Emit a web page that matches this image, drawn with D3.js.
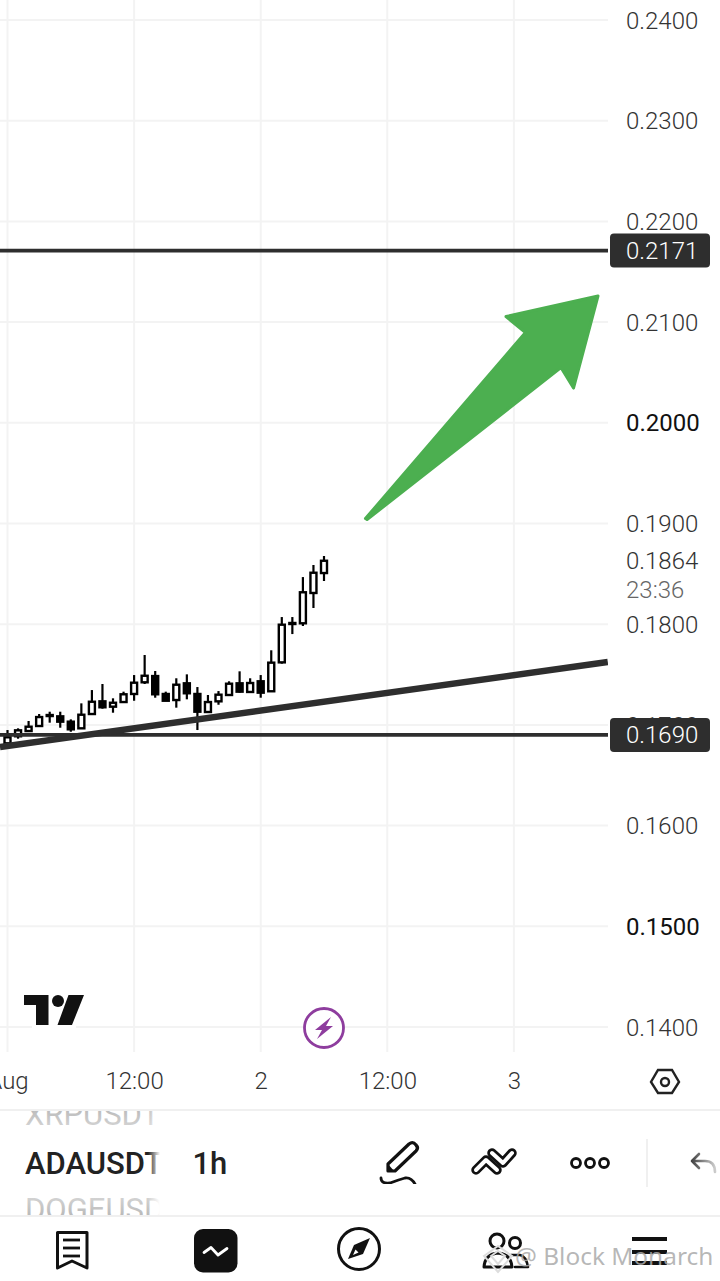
<!DOCTYPE html>
<html>
<head>
<meta charset="utf-8">
<script src="https://cdn.jsdelivr.net/npm/d3@7/dist/d3.min.js"></script>
<style>
html, body { margin: 0; padding: 0; background: #fff; overflow: hidden; }
svg { display: block; font-family: Roboto, sans-serif; font-feature-settings: "tnum"; }
svg text { font-family: Roboto, sans-serif; }
</style>
</head>
<body>
<script>
// candles, one per hour counted from 1 Aug 00:00
var hours = d3.range(0, 31);
var opens = [.16817,.16887,.16939,.16989,.17088,.17085,.17032,.16966,.17108,.17234,.17181,.17227,.17307,.17423,.17485,.17307,.17247,.17413,.17307,.17128,.17234,.17297,.17413,.17327,.17433,.17334,.17621,.18002,.18009,.18310,.18508];
var highs = [.16949,.16966,.17039,.17108,.17131,.17131,.17055,.17214,.17346,.17406,.17264,.17330,.17495,.17694,.17535,.17330,.17463,.17502,.17376,.17297,.17336,.17433,.17532,.17463,.17495,.17741,.18071,.18071,.18468,.18588,.18677];
var lows = [.16815,.16863,.16932,.16982,.17022,.16972,.16932,.16966,.17105,.17161,.17121,.17224,.17240,.17406,.17270,.17237,.17171,.17254,.16949,.17121,.17200,.17294,.17320,.17324,.17270,.17330,.17608,.17902,.17982,.18161,.18429];
var closes = [.16877,.16946,.16982,.17078,.17098,.17032,.16956,.17101,.17230,.17175,.17220,.17304,.17419,.17488,.17304,.17240,.17399,.17314,.17131,.17227,.17300,.17409,.17330,.17416,.17320,.17618,.17995,.18012,.18317,.18511,.18630];

var priceTicks = [.14,.15,.16,.17,.18,.19,.20,.21,.22,.23,.24];
var boldPrices = [.15,.20];
var timeTicks = [0,12,24,36,48];
var timeLabels = ['Aug','12:00','2','12:00','3'];

// drawings on the chart
var levels = [.2171,.1690];
var trendHours = [-0.71,56.9];
var trendPrices = [.16780,.17624];
var arrowHours = [55.97,47.25,49.10,33.93,34.08,52.46,53.65];
var arrowPrices = [.21259,.21055,.20896,.19049,.19039,.20549,.20345];
var lastPrice = '0.1864', countdown = '23:36';

var W = 720, H = 1281, chartRight = 608, chartBottom = 1052;
var x = d3.scaleLinear().domain([0,48]).range([7.5,513.9]);
var y = d3.scaleLinear().domain([.14,.24]).range([1027,20]);

var svg = d3.select('body').append('svg').attr('width', W).attr('height', H);
var defs = svg.append('defs');
defs.append('clipPath').attr('id','plot').append('rect').attr('width',chartRight).attr('height',chartBottom);
defs.append('clipPath').attr('id','picker').append('rect').attr('x',0).attr('y',1111).attr('width',165).attr('height',104);
defs.append('clipPath').attr('id','pen').append('rect').attr('x',370).attr('y',1130).attr('width',60).attr('height',54);
var fade = defs.append('linearGradient').attr('id','fade').attr('gradientUnits','userSpaceOnUse')
    .attr('x1',148).attr('x2',160).attr('y1',0).attr('y2',0);
fade.append('stop').attr('offset',0).attr('stop-color','#fff').attr('stop-opacity',0);
fade.append('stop').attr('offset',1).attr('stop-color','#fff').attr('stop-opacity',1);
var fadeUp = defs.append('linearGradient').attr('id','fadeUp').attr('x1',0).attr('x2',0).attr('y1',0).attr('y2',1);
fadeUp.append('stop').attr('offset',0).attr('stop-color','#a8a8a8');
fadeUp.append('stop').attr('offset',1).attr('stop-color','#dcdcdc');
var fadeDown = defs.append('linearGradient').attr('id','fadeDown').attr('x1',0).attr('x2',0).attr('y1',0).attr('y2',1);
fadeDown.append('stop').attr('offset',0).attr('stop-color','#dcdcdc');
fadeDown.append('stop').attr('offset',1).attr('stop-color','#a8a8a8');
var undo = defs.append('linearGradient').attr('id','undo');
undo.append('stop').attr('offset',0).attr('stop-color','#444');
undo.append('stop').attr('offset',1).attr('stop-color','#ccc');

// grid
var plot = svg.append('g').attr('clip-path','url(#plot)');
plot.selectAll('.hgrid').data(priceTicks).enter().append('line')
    .attr('x1',0).attr('x2',chartRight).attr('y1',y).attr('y2',y)
    .attr('stroke','#f3f3f3').attr('stroke-width',2);
plot.selectAll('.vgrid').data(timeTicks).enter().append('line')
    .attr('x1',x).attr('x2',x).attr('y1',0).attr('y2',chartBottom)
    .attr('stroke','#f3f3f3').attr('stroke-width',2);

// axes
var priceAxis = d3.axisRight(y).tickValues(priceTicks).tickSize(0).tickPadding(0).tickFormat(d3.format('.4f'));
var gy = svg.append('g').attr('transform','translate(626,0.5)').call(priceAxis);
gy.select('.domain').remove();
gy.selectAll('text').attr('fill',function(d){ return boldPrices.indexOf(d) >= 0 ? '#111' : '#333'; })
    .style('font-size','24px')
    .style('font-weight',function(d){ return boldPrices.indexOf(d) >= 0 ? 400 : 300; });

var timeAxis = d3.axisBottom(x).tickValues(timeTicks).tickSize(0).tickPadding(0)
    .tickFormat(function(d,i){ return timeLabels[i]; });
var gx = svg.append('g').attr('transform','translate(0,1072)').call(timeAxis);
gx.select('.domain').remove();
gx.selectAll('text').attr('fill','#333').style('font-size','24px').style('font-weight',300);

// candles
var candles = plot.selectAll('.candle').data(hours).enter().append('g');
candles.append('line')
    .attr('x1',function(h){ return x(h); }).attr('x2',function(h){ return x(h); })
    .attr('y1',function(h,i){ return y(highs[i]); }).attr('y2',function(h,i){ return y(lows[i]); })
    .attr('stroke','#000').attr('stroke-width',2.2);
candles.append('rect')
    .attr('x',function(h){ return x(h) - 3; }).attr('width',6)
    .attr('y',function(h,i){ return y(Math.max(opens[i],closes[i])); })
    .attr('height',function(h,i){ return Math.abs(y(opens[i]) - y(closes[i])); })
    .attr('fill',function(h,i){ return closes[i] >= opens[i] ? '#fff' : '#000'; })
    .attr('stroke','#000').attr('stroke-width',2.4);

// level lines, trend line, arrow
plot.selectAll('.level').data(levels).enter().append('line')
    .attr('x1',0).attr('x2',chartRight).attr('y1',y).attr('y2',y)
    .attr('stroke','#2e2e2e').attr('stroke-width',3.8);
plot.append('line')
    .attr('x1',x(trendHours[0])).attr('x2',x(trendHours[1]))
    .attr('y1',y(trendPrices[0])).attr('y2',y(trendPrices[1]))
    .attr('stroke','#2e2e2e').attr('stroke-width',6.5);
svg.append('path')
    .attr('d',d3.line()(arrowHours.map(function(h,i){ return [x(h), y(arrowPrices[i])]; })) + 'Z')
    .attr('fill','#4caf50').attr('stroke','#4caf50').attr('stroke-width',3).attr('stroke-linejoin','round');

// price tags
var tags = svg.selectAll('.tag').data(levels).enter().append('g');
tags.append('rect').attr('x',610).attr('width',100).attr('height',34).attr('rx',4)
    .attr('y',function(d){ return y(d) - 17; }).attr('fill','#2e2e2e');
tags.append('text').attr('x',626).attr('y',function(d){ return y(d) + 8.5; })
    .attr('fill','#fff').style('font-size','24px').style('font-weight',300)
    .text(d3.format('.4f'));

svg.append('text').attr('x',626).attr('y',568.5).attr('fill','#333')
    .style('font-size','24px').style('font-weight',300).text(lastPrice);
svg.append('text').attr('x',626).attr('y',597.5).attr('fill','#666')
    .style('font-size','24px').style('font-weight',300).text(countdown);

// tradingview logo
svg.append('rect').attr('x',32).attr('y',1025).attr('width',44).attr('height',3).attr('fill','#fff');
svg.append('path').attr('fill','#111')
    .attr('d','M24 995H48.5V1025H36V1005H24ZM68.5 995H84L72 1025H57.5Z');
svg.append('circle').attr('cx',58).attr('cy',1001).attr('r',6).attr('fill','#111');

// lightning badge
svg.append('circle').attr('cx',324).attr('cy',1028).attr('r',19.5).attr('fill','#fff')
    .attr('stroke','#8e3d9e').attr('stroke-width',2.8);
svg.append('path').attr('fill','#8e3d9e')
    .attr('d','M331 1017L315 1030H322L317 1039L333 1026H326Z');

// settings hexagon
svg.append('path').attr('fill','none').attr('stroke','#222').attr('stroke-width',2.4)
    .attr('d','M658 1070H672L679 1082L672 1093H658L651 1082Z');
svg.append('circle').attr('cx',665).attr('cy',1082).attr('r',4).attr('fill','none')
    .attr('stroke','#222').attr('stroke-width',2.4);

// bottom panel
svg.selectAll('.sep').data([1110,1216]).enter().append('line')
    .attr('x1',0).attr('x2',W).attr('y1',function(d){ return d; }).attr('y2',function(d){ return d; })
    .attr('stroke','#f0f0f0').attr('stroke-width',2);

var picker = svg.append('g').attr('clip-path','url(#picker)');
picker.append('text').attr('x',25).attr('y',1125).attr('fill','url(#fadeUp)')
    .style('font-size','31px').style('font-weight',400).text('XRPUSDT');
picker.append('text').attr('x',25).attr('y',1220).attr('fill','url(#fadeDown)')
    .style('font-size','31px').style('font-weight',400).text('DOGEUSDT');
picker.append('text').attr('x',25).attr('y',1173.5).attr('fill','#222')
    .style('font-size','31px').style('font-weight',500).text('ADAUSDT');
picker.append('rect').attr('x',148).attr('y',1111).attr('width',17).attr('height',104).attr('fill','url(#fade)');
svg.append('text').attr('x',192.5).attr('y',1173.5).attr('fill','#222')
    .style('font-size','31px').style('font-weight',500).text('1h');

var iconStroke = function(d, w, c){
    return svg.append('path').attr('d',d).attr('fill','none').attr('stroke',c || '#111')
        .attr('stroke-width',w).attr('stroke-linecap','round').attr('stroke-linejoin','round');
};
// pencil
iconStroke('M388 1171L388 1164L409 1144Q413 1141 416 1145Q419 1148 416 1151L395 1171Z',3.2);
svg.append('path').attr('d','M387 1163L395 1172L387 1172Z').attr('fill','#111');
iconStroke('M381 1178Q381 1184 390 1183Q398 1180 405 1178Q412 1177 416 1186',2.8).attr('clip-path','url(#pen)');
// trend tools
iconStroke('M476 1170L486 1160L497 1170',9.5);
iconStroke('M476 1170L486 1160L497 1170',4,'#fff');
iconStroke('M492 1153L503 1163L512 1153',9.5);
iconStroke('M492 1153L503 1163L512 1153',4,'#fff');
// dots
svg.selectAll('.dot').data([576,590,604]).enter().append('circle')
    .attr('cx',function(d){ return d; }).attr('cy',1163).attr('r',4.5)
    .attr('fill','none').attr('stroke','#111').attr('stroke-width',2.8);
svg.append('line').attr('x1',647).attr('x2',647).attr('y1',1139).attr('y2',1187)
    .attr('stroke','#f0f0f0').attr('stroke-width',2);
// undo
iconStroke('M699 1154L692 1161L699 1168M692 1161H705Q715 1161 715 1172',2.6,'url(#undo)');

// nav icons
iconStroke('M57.5 1232.5H87V1268L72 1261L57.5 1268Z',3);
svg.selectAll('.navline').data([1240,1248,1256]).enter().append('line')
    .attr('x1',63).attr('x2',80).attr('y1',function(d){ return d; }).attr('y2',function(d){ return d; })
    .attr('stroke','#111').attr('stroke-width',2.8);
svg.append('rect').attr('x',194).attr('y',1229).attr('width',43.5).attr('height',43.5).attr('rx',9).attr('fill','#111');
iconStroke('M204 1252.5L211 1247.5L218 1255L227 1248.5',2.8,'#fff');
svg.append('circle').attr('cx',359).attr('cy',1249).attr('r',20.5).attr('fill','none')
    .attr('stroke','#111').attr('stroke-width',3);
svg.append('path').attr('fill','#111').attr('d','M370 1238L354 1245L348 1259L363 1254Z');
svg.append('path').attr('fill','#fff').attr('d','M353 1255L355.5 1249.5L358.5 1252.5Z');
// people
svg.append('circle').attr('cx',497).attr('cy',1241).attr('r',7).attr('fill','none').attr('stroke','#111').attr('stroke-width',3);
svg.append('circle').attr('cx',515).attr('cy',1243).attr('r',5.5).attr('fill','none').attr('stroke','#111').attr('stroke-width',3);
iconStroke('M484 1267Q485 1254 498 1253Q511 1254 512 1267Z',3);
iconStroke('M511 1255H520Q526 1256 528 1267H515',2.6);
// menu
svg.selectAll('.menu').data([1237,1250,1261]).enter().append('rect')
    .attr('x',632).attr('width',35).attr('height',4)
    .attr('y',function(d){ return d; }).attr('fill','#111');

// watermark
svg.append('text').attr('x',515).attr('y',1264.5).attr('fill','#aaa').attr('fill-opacity',0.85)
    .style('font-family','"Noto Sans", sans-serif').style('font-size','24.4px').text('@ Block Monarch');
var mark = svg.append('g').attr('fill','none').attr('stroke','#ddd').attr('stroke-width',2);
mark.append('path').attr('d','M484 1256L498 1246L512 1256L498 1272Z');
mark.append('path').attr('d','M491 1256L498 1251L505 1256L498 1264Z');
</script>
</body>
</html>
